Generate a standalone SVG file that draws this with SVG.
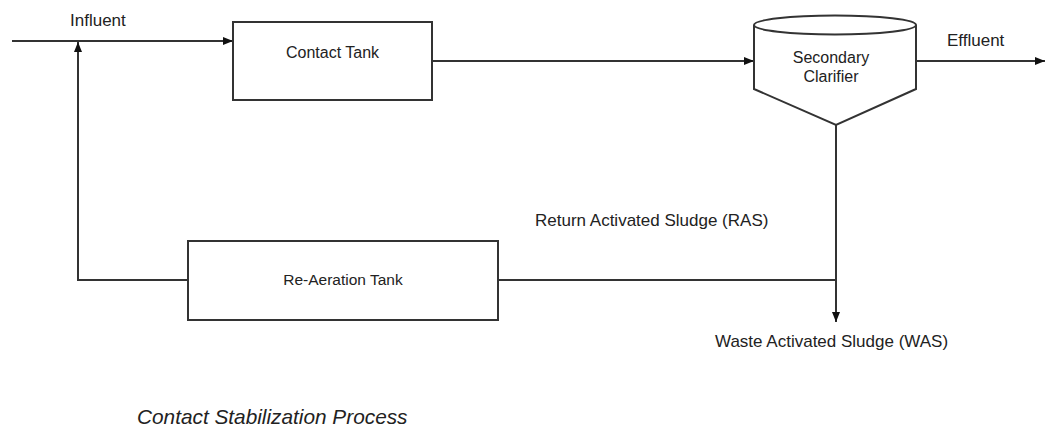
<svg xmlns="http://www.w3.org/2000/svg" width="1047" height="432" viewBox="0 0 1047 432">
<style>
.box{fill:#fff;stroke:#333;stroke-width:2}
.ln{fill:none;stroke:#333;stroke-width:2}
.t{font-family:"Liberation Sans",Arial,sans-serif;fill:#222}
</style>
<defs>
<marker id="ah" viewBox="0 0 10 8" refX="10" refY="4" markerWidth="10" markerHeight="8" markerUnits="userSpaceOnUse" orient="auto">
<path d="M0,0 L10,4 L0,8 Z" fill="#111"/>
</marker>
</defs>
<rect width="1047" height="432" fill="#fff"/>
<g id="connectors">
<line class="ln" x1="12" y1="41" x2="233" y2="41" marker-end="url(#ah)"/>
<line class="ln" x1="432" y1="61" x2="754" y2="61" marker-end="url(#ah)"/>
<line class="ln" x1="916" y1="61" x2="1045" y2="61" marker-end="url(#ah)"/>
<line class="ln" x1="836" y1="125" x2="836" y2="322" marker-end="url(#ah)"/>
<line class="ln" x1="498" y1="280" x2="836" y2="280"/>
<polyline class="ln" points="188,280 78,280 78,42" marker-end="url(#ah)"/>
</g>
<g id="influent-label"><text class="t" x="70" y="26" font-size="17">Influent</text></g>
<g id="contact-tank">
<rect class="box" x="233" y="22" width="199" height="78"/>
<text class="t" x="332.5" y="58" font-size="16" text-anchor="middle">Contact Tank</text>
</g>
<g id="secondary-clarifier">
<path class="box" d="M754,25 L754,89 L836,125 L916,89 L916,25"/>
<ellipse class="box" cx="835" cy="25" rx="81" ry="9.5"/>
<text class="t" x="831" y="63" font-size="16" text-anchor="middle">Secondary</text>
<text class="t" x="831" y="82" font-size="16" text-anchor="middle">Clarifier</text>
</g>
<g id="effluent-label"><text class="t" x="947" y="46" font-size="17">Effluent</text></g>
<g id="re-aeration-tank">
<rect class="box" x="188" y="241" width="310" height="79"/>
<text class="t" x="343" y="285" font-size="15.5" text-anchor="middle">Re-Aeration Tank</text>
</g>
<g id="ras-label"><text class="t" x="535" y="226" font-size="17">Return Activated Sludge (RAS)</text></g>
<g id="was-label"><text class="t" x="715" y="347" font-size="17">Waste Activated Sludge (WAS)</text></g>
<g id="title"><text class="t" x="137" y="424" font-size="20.8" font-style="italic">Contact Stabilization Process</text></g>
</svg>
